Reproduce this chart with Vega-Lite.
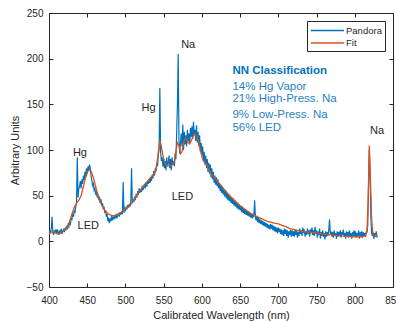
{
  "$schema": "https://vega.github.io/schema/vega-lite/v6.json",
  "width": 344,
  "height": 274,
  "autosize": "none",
  "padding": {"left": 49, "top": 13, "right": 3, "bottom": 35},
  "background": "white",
  "config": {
    "view": {"stroke": null},
    "font": "Liberation Sans",
    "axis": {
      "domainColor": "#262626", "tickColor": "#262626", "labelColor": "#262626", "titleColor": "#262626",
      "labelFont": "Liberation Sans", "titleFont": "Liberation Sans", "labelFontSize": 10, "titleFontSize": 11,
      "titleFontWeight": "normal", "grid": false, "tickSize": -4, "domainWidth": 1, "tickWidth": 1, "labelFlush": false
    },
    "legend": {
      "orient": "none", "legendX": 258, "legendY": 8, "strokeColor": "#262626", "fillColor": "white",
      "padding": 3, "symbolType": "M-3,0H3", "symbolSize": 121, "symbolStrokeWidth": 1.5, "symbolOffset": 11,
      "labelOffset": 12, "labelFont": "Liberation Sans", "labelFontSize": 9.5, "labelColor": "#262626", "title": null, "rowPadding": 1.4
    }
  },
  "datasets": {
    "pandora": [
      {"w":400,"v":8},{"w":401,"v":12},{"w":402,"v":9},{"w":403,"v":14},{"w":404,"v":27},{"w":405,"v":10},{"w":406,"v":7},{"w":407,"v":12},{"w":408,"v":9},{"w":409,"v":13},
      {"w":410,"v":8},{"w":411,"v":13},{"w":412,"v":10},{"w":413,"v":7},{"w":414,"v":12},{"w":415,"v":9},{"w":416,"v":14},{"w":417,"v":8},{"w":418,"v":11},{"w":419,"v":13},
      {"w":420,"v":10},{"w":421,"v":15},{"w":422,"v":12},{"w":423,"v":17},{"w":424,"v":13},{"w":425,"v":18},{"w":426,"v":16},{"w":427,"v":21},{"w":428,"v":19},{"w":429,"v":25},
      {"w":430,"v":24},{"w":431,"v":30},{"w":432,"v":27},{"w":433,"v":34},{"w":434,"v":31},{"w":435,"v":38},{"w":436,"v":42},{"w":437,"v":92},{"w":438,"v":48},{"w":439,"v":58},
      {"w":440,"v":60},{"w":441,"v":66},{"w":442,"v":58},{"w":443,"v":68},{"w":444,"v":63},{"w":445,"v":72},{"w":446,"v":67},{"w":447,"v":76},{"w":448,"v":71},{"w":449,"v":80},
      {"w":450,"v":74},{"w":451,"v":82},{"w":452,"v":77},{"w":453,"v":84},{"w":454,"v":80},{"w":455,"v":72},{"w":456,"v":67},{"w":457,"v":61},{"w":458,"v":63},{"w":459,"v":56},
      {"w":460,"v":58},{"w":461,"v":51},{"w":462,"v":55},{"w":463,"v":48},{"w":464,"v":52},{"w":465,"v":45},{"w":466,"v":49},{"w":467,"v":42},{"w":468,"v":46},{"w":469,"v":39},
      {"w":470,"v":42},{"w":471,"v":35},{"w":472,"v":38},{"w":473,"v":31},{"w":474,"v":34},{"w":475,"v":27},{"w":476,"v":30},{"w":477,"v":22},{"w":478,"v":26},{"w":479,"v":20},
      {"w":480,"v":25},{"w":481,"v":22},{"w":482,"v":28},{"w":483,"v":23},{"w":484,"v":27},{"w":485,"v":24},{"w":486,"v":29},{"w":487,"v":25},{"w":488,"v":30},{"w":489,"v":26},
      {"w":490,"v":28},{"w":491,"v":31},{"w":492,"v":27},{"w":493,"v":32},{"w":494,"v":29},{"w":495,"v":33},{"w":496,"v":30},{"w":497,"v":65},{"w":498,"v":31},{"w":499,"v":36},
      {"w":500,"v":34},{"w":501,"v":38},{"w":502,"v":35},{"w":503,"v":40},{"w":504,"v":37},{"w":505,"v":41},{"w":506,"v":38},{"w":507,"v":44},{"w":508,"v":80},{"w":509,"v":42},
      {"w":510,"v":46},{"w":511,"v":43},{"w":512,"v":49},{"w":513,"v":45},{"w":514,"v":52},{"w":515,"v":48},{"w":516,"v":55},{"w":517,"v":51},{"w":518,"v":58},{"w":519,"v":53},
      {"w":520,"v":57},{"w":521,"v":54},{"w":522,"v":61},{"w":523,"v":56},{"w":524,"v":59},{"w":525,"v":63},{"w":526,"v":58},{"w":527,"v":65},{"w":528,"v":60},{"w":529,"v":66},
      {"w":530,"v":63},{"w":531,"v":68},{"w":532,"v":64},{"w":533,"v":70},{"w":534,"v":66},{"w":535,"v":73},{"w":536,"v":69},{"w":537,"v":77},{"w":538,"v":72},{"w":539,"v":80},
      {"w":540,"v":77},{"w":541,"v":86},{"w":542,"v":82},{"w":543,"v":95},{"w":544,"v":100},{"w":545,"v":168},{"w":546,"v":98},{"w":547,"v":88},{"w":548,"v":92},{"w":549,"v":82},
      {"w":550,"v":90},{"w":551,"v":80},{"w":552,"v":88},{"w":553,"v":78},{"w":554,"v":92},{"w":555,"v":82},{"w":556,"v":86},{"w":557,"v":94},{"w":558,"v":80},{"w":559,"v":90},
      {"w":560,"v":78},{"w":561,"v":92},{"w":562,"v":84},{"w":563,"v":88},{"w":564,"v":82},{"w":565,"v":96},{"w":566,"v":90},{"w":567,"v":118},{"w":568,"v":150},{"w":569,"v":205},
      {"w":570,"v":112},{"w":571,"v":96},{"w":572,"v":108},{"w":573,"v":118},{"w":574,"v":104},{"w":575,"v":128},{"w":576,"v":100},{"w":577,"v":120},{"w":578,"v":106},{"w":579,"v":116},
      {"w":580,"v":104},{"w":581,"v":122},{"w":582,"v":110},{"w":583,"v":118},{"w":584,"v":106},{"w":585,"v":124},{"w":586,"v":114},{"w":587,"v":126},{"w":588,"v":112},{"w":589,"v":131},
      {"w":590,"v":116},{"w":591,"v":122},{"w":592,"v":110},{"w":593,"v":127},{"w":594,"v":108},{"w":595,"v":120},{"w":596,"v":104},{"w":597,"v":116},{"w":598,"v":98},{"w":599,"v":108},
      {"w":600,"v":94},{"w":601,"v":104},{"w":602,"v":88},{"w":603,"v":98},{"w":604,"v":84},{"w":605,"v":94},{"w":606,"v":80},{"w":607,"v":90},{"w":608,"v":76},{"w":609,"v":86},
      {"w":610,"v":74},{"w":611,"v":84},{"w":612,"v":70},{"w":613,"v":80},{"w":614,"v":68},{"w":615,"v":76},{"w":616,"v":64},{"w":617,"v":72},{"w":618,"v":62},{"w":619,"v":70},
      {"w":620,"v":60},{"w":621,"v":68},{"w":622,"v":58},{"w":623,"v":64},{"w":624,"v":55},{"w":625,"v":62},{"w":626,"v":53},{"w":627,"v":60},{"w":628,"v":51},{"w":629,"v":57},
      {"w":630,"v":49},{"w":631,"v":56},{"w":632,"v":47},{"w":633,"v":53},{"w":634,"v":45},{"w":635,"v":52},{"w":636,"v":44},{"w":637,"v":50},{"w":638,"v":42},{"w":639,"v":48},
      {"w":640,"v":41},{"w":641,"v":47},{"w":642,"v":39},{"w":643,"v":45},{"w":644,"v":38},{"w":645,"v":43},{"w":646,"v":36},{"w":647,"v":42},{"w":648,"v":35},{"w":649,"v":40},
      {"w":650,"v":34},{"w":651,"v":39},{"w":652,"v":32},{"w":653,"v":38},{"w":654,"v":31},{"w":655,"v":36},{"w":656,"v":30},{"w":657,"v":35},{"w":658,"v":29},{"w":659,"v":33},
      {"w":660,"v":28},{"w":661,"v":33},{"w":662,"v":27},{"w":663,"v":31},{"w":664,"v":26},{"w":665,"v":30},{"w":666,"v":25},{"w":667,"v":29},{"w":668,"v":27},{"w":669,"v":45},
      {"w":670,"v":26},{"w":671,"v":23},{"w":672,"v":28},{"w":673,"v":21},{"w":674,"v":26},{"w":675,"v":20},{"w":676,"v":24},{"w":677,"v":19},{"w":678,"v":23},{"w":679,"v":18},
      {"w":680,"v":22},{"w":681,"v":17},{"w":682,"v":21},{"w":683,"v":16},{"w":684,"v":20},{"w":685,"v":15},{"w":686,"v":19},{"w":687,"v":14},{"w":688,"v":18},{"w":689,"v":13},
      {"w":690,"v":19},{"w":691,"v":14},{"w":692,"v":18},{"w":693,"v":12},{"w":694,"v":17},{"w":695,"v":11},{"w":696,"v":16},{"w":697,"v":10},{"w":698,"v":15},{"w":699,"v":9},
      {"w":700,"v":15},{"w":701,"v":10},{"w":702,"v":14},{"w":703,"v":8},{"w":704,"v":13},{"w":705,"v":7},{"w":706,"v":12},{"w":707,"v":6},{"w":708,"v":14},{"w":709,"v":8},
      {"w":710,"v":13},{"w":711,"v":6},{"w":712,"v":12},{"w":713,"v":4},{"w":714,"v":11},{"w":715,"v":7},{"w":716,"v":13},{"w":717,"v":5},{"w":718,"v":12},{"w":719,"v":6},
      {"w":720,"v":11},{"w":721,"v":5},{"w":722,"v":13},{"w":723,"v":7},{"w":724,"v":12},{"w":725,"v":4},{"w":726,"v":10},{"w":727,"v":6},{"w":728,"v":14},{"w":729,"v":8},
      {"w":730,"v":12},{"w":731,"v":6},{"w":732,"v":15},{"w":733,"v":9},{"w":734,"v":13},{"w":735,"v":5},{"w":736,"v":11},{"w":737,"v":7},{"w":738,"v":14},{"w":739,"v":8},
      {"w":740,"v":12},{"w":741,"v":5},{"w":742,"v":13},{"w":743,"v":9},{"w":744,"v":15},{"w":745,"v":7},{"w":746,"v":12},{"w":747,"v":6},{"w":748,"v":16},{"w":749,"v":8},
      {"w":750,"v":12},{"w":751,"v":4},{"w":752,"v":11},{"w":753,"v":7},{"w":754,"v":14},{"w":755,"v":3},{"w":756,"v":10},{"w":757,"v":6},{"w":758,"v":12},{"w":759,"v":5},
      {"w":760,"v":9},{"w":761,"v":2},{"w":762,"v":11},{"w":763,"v":5},{"w":764,"v":10},{"w":765,"v":6},{"w":766,"v":13},{"w":767,"v":24},{"w":768,"v":8},{"w":769,"v":11},
      {"w":770,"v":5},{"w":771,"v":10},{"w":772,"v":4},{"w":773,"v":12},{"w":774,"v":6},{"w":775,"v":9},{"w":776,"v":3},{"w":777,"v":11},{"w":778,"v":5},{"w":779,"v":10},
      {"w":780,"v":6},{"w":781,"v":12},{"w":782,"v":4},{"w":783,"v":10},{"w":784,"v":7},{"w":785,"v":13},{"w":786,"v":5},{"w":787,"v":9},{"w":788,"v":3},{"w":789,"v":11},
      {"w":790,"v":6},{"w":791,"v":10},{"w":792,"v":4},{"w":793,"v":12},{"w":794,"v":5},{"w":795,"v":9},{"w":796,"v":3},{"w":797,"v":10},{"w":798,"v":6},{"w":799,"v":12},
      {"w":800,"v":5},{"w":801,"v":11},{"w":802,"v":4},{"w":803,"v":9},{"w":804,"v":6},{"w":805,"v":12},{"w":806,"v":3},{"w":807,"v":10},{"w":808,"v":5},{"w":809,"v":11},
      {"w":810,"v":4},{"w":811,"v":10},{"w":812,"v":6},{"w":813,"v":9},{"w":814,"v":5},{"w":815,"v":10},{"w":816,"v":10},{"w":817,"v":18},{"w":818,"v":62},{"w":819,"v":100},
      {"w":820,"v":72},{"w":821,"v":28},{"w":822,"v":9},{"w":823,"v":6},{"w":824,"v":10},{"w":825,"v":3},{"w":826,"v":9},{"w":827,"v":5},{"w":828,"v":11},{"w":829,"v":4}
    ],
    "fit": [
      {"w":400,"v":8},{"w":403,"v":10},{"w":406,"v":11},{"w":409,"v":9},{"w":412,"v":8},{"w":415,"v":9},{"w":418,"v":11},{"w":421,"v":13},{"w":424,"v":16},{"w":427,"v":22},{"w":430,"v":30},{"w":433,"v":37},{"w":436,"v":42},{"w":439,"v":45},{"w":442,"v":50},{"w":445,"v":60},{"w":448,"v":70},{"w":451,"v":77},{"w":453,"v":78.5},{"w":455,"v":77},{"w":458,"v":70},{"w":461,"v":60},{"w":464,"v":50},{"w":467,"v":43},{"w":470,"v":38},{"w":473,"v":34},{"w":476,"v":31},{"w":480,"v":29},{"w":484,"v":28},{"w":488,"v":28.5},{"w":492,"v":30},{"w":496,"v":33},{"w":500,"v":36},{"w":504,"v":38},{"w":508,"v":41},{"w":512,"v":46},{"w":516,"v":52},{"w":520,"v":57},{"w":524,"v":61},{"w":528,"v":65},{"w":532,"v":69},{"w":536,"v":72},{"w":539,"v":76},{"w":541,"v":84},{"w":543,"v":98},{"w":545,"v":110},{"w":547,"v":104},{"w":549,"v":94},{"w":551,"v":87},{"w":553,"v":84},{"w":556,"v":83},{"w":559,"v":83},{"w":562,"v":84},{"w":564,"v":88},{"w":566,"v":98},{"w":568,"v":108},{"w":570,"v":105},{"w":572,"v":96},{"w":574,"v":98},{"w":576,"v":108},{"w":578,"v":113},{"w":580,"v":112},{"w":582,"v":108},{"w":584,"v":107},{"w":586,"v":110},{"w":588,"v":114},{"w":590,"v":117},{"w":592,"v":117},{"w":594,"v":114},{"w":596,"v":108},{"w":598,"v":100},{"w":600,"v":93},{"w":602,"v":88},{"w":604,"v":86},{"w":606,"v":84},{"w":608,"v":80},{"w":610,"v":77},{"w":613,"v":73},{"w":616,"v":70},{"w":620,"v":66},{"w":625,"v":61},{"w":630,"v":56},{"w":635,"v":51},{"w":640,"v":47},{"w":645,"v":43},{"w":650,"v":39},{"w":655,"v":36},{"w":660,"v":33},{"w":665,"v":30},{"w":670,"v":28},{"w":675,"v":26},{"w":680,"v":24},{"w":685,"v":22},{"w":690,"v":21},{"w":695,"v":20},{"w":700,"v":19},{"w":705,"v":17.5},{"w":710,"v":16},{"w":715,"v":14},{"w":720,"v":13},{"w":725,"v":12},{"w":730,"v":11},{"w":740,"v":10},{"w":750,"v":9},{"w":760,"v":8},{"w":770,"v":7},{"w":780,"v":6},{"w":790,"v":5.5},{"w":800,"v":5},{"w":810,"v":5},{"w":814,"v":6},{"w":816,"v":12},{"w":817.5,"v":45},{"w":819,"v":105},{"w":820.5,"v":70},{"w":822,"v":25},{"w":823.5,"v":10},{"w":825,"v":7},{"w":828,"v":6},{"w":830,"v":6}
    ],
    "labels": [
      {"w":440.5,"v":96.6,"t":"Hg"},{"w":530.3,"v":146.5,"t":"Hg"},{"w":582.1,"v":214.5,"t":"Na"},{"w":829.2,"v":121,"t":"Na"},{"w":451.3,"v":16.6,"t":"LED"},{"w":574.5,"v":48.3,"t":"LED"}
    ],
    "nn": [
      {"w":640,"v":169.4,"t":"14% Hg Vapor"},{"w":640,"v":155.6,"t":"21% High-Press. Na"},{"w":640,"v":137.8,"t":"9% Low-Press. Na"},{"w":640,"v":124.2,"t":"56% LED"}
    ],
    "nnTitle": [
      {"w":640,"v":186.7,"t":"NN Classification"}
    ]
  },
  "resolve": {"scale": {"x": "shared", "y": "shared"}, "axis": {"x": "independent", "y": "independent"}},
  "layer": [
    {
      "data": {"name": "pandora"},
      "mark": {"type": "line", "strokeWidth": 1.2, "clip": true},
      "encoding": {
        "x": {"field": "w", "type": "quantitative", "scale": {"domain": [400, 850], "nice": false, "zero": false},
              "axis": {"orient": "bottom", "title": "Calibrated Wavelength (nm)", "values": [400,450,500,550,600,650,700,750,800,850], "labelPadding": 12, "titlePadding": 4}},
        "y": {"field": "v", "type": "quantitative", "scale": {"domain": [-50, 250], "nice": false, "zero": false},
              "axis": {"orient": "left", "title": "Arbitrary Units", "values": [-50,0,50,100,150,200,250], "labelPadding": 10, "titlePadding": 6}},
        "color": {"datum": "Pandora", "scale": {"domain": ["Pandora", "Fit"], "range": ["#0072BD", "#D95319"]}}
      }
    },
    {
      "data": {"name": "fit"},
      "mark": {"type": "line", "strokeWidth": 1.3, "clip": true},
      "encoding": {
        "x": {"field": "w", "type": "quantitative", "axis": {"orient": "top", "labels": false, "title": null, "values": [400,450,500,550,600,650,700,750,800,850]}},
        "y": {"field": "v", "type": "quantitative", "axis": {"orient": "right", "labels": false, "title": null, "values": [-50,0,50,100,150,200,250]}},
        "color": {"datum": "Fit"}
      }
    },
    {
      "data": {"name": "labels"},
      "mark": {"type": "text", "font": "Liberation Sans", "fontSize": 11, "color": "#262626", "align": "center", "baseline": "middle"},
      "encoding": {
        "x": {"field": "w", "type": "quantitative", "axis": null},
        "y": {"field": "v", "type": "quantitative", "axis": null},
        "text": {"field": "t"}
      }
    },
    {
      "data": {"name": "nn"},
      "mark": {"type": "text", "font": "Liberation Sans", "fontSize": 11.5, "color": "#1f7fc8", "align": "left", "baseline": "middle"},
      "encoding": {
        "x": {"field": "w", "type": "quantitative", "axis": null},
        "y": {"field": "v", "type": "quantitative", "axis": null},
        "text": {"field": "t"}
      }
    },
    {
      "data": {"name": "nnTitle"},
      "mark": {"type": "text", "font": "Liberation Sans", "fontSize": 11.5, "fontWeight": "bold", "color": "#0072BD", "align": "left", "baseline": "middle"},
      "encoding": {
        "x": {"field": "w", "type": "quantitative", "axis": null},
        "y": {"field": "v", "type": "quantitative", "axis": null},
        "text": {"field": "t"}
      }
    }
  ]
}
